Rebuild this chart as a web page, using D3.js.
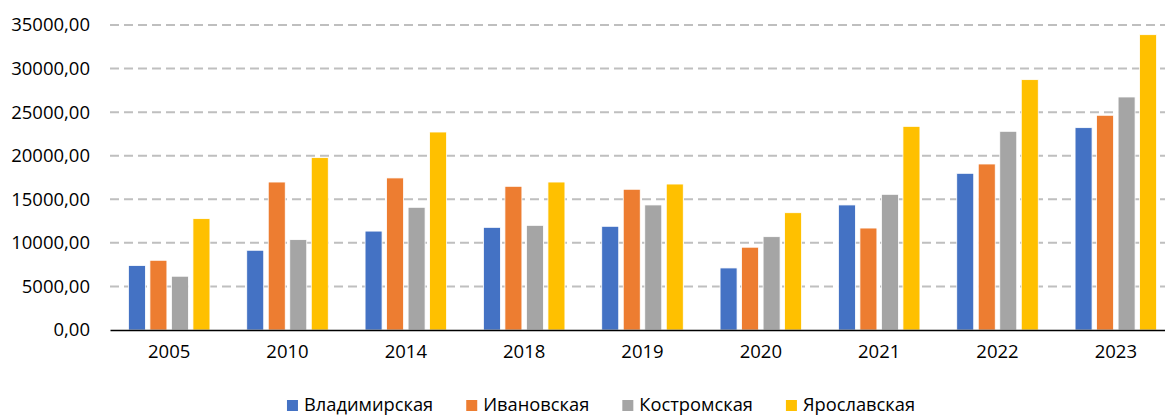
<!DOCTYPE html>
<html>
<head>
<meta charset="utf-8">
<script src="https://cdn.jsdelivr.net/npm/d3@7"></script>
<style>
  body { margin: 0; background: #fff; }
  svg { display: block; font-family: "Open Sans", sans-serif; }
</style>
</head>
<body>
<svg id="chart"></svg>
<script>
// data
var years = ['2005', '2010', '2014', '2018', '2019', '2020', '2021', '2022', '2023']
var regions = ['Владимирская', 'Ивановская', 'Костромская', 'Ярославская']
var vladimir = [7400, 9150, 11350, 11780, 11900, 7120, 14350, 17980, 23220]
var ivanovo = [8000, 16980, 17450, 16490, 16150, 9500, 11700, 19050, 24640]
var kostroma = [6170, 10370, 14080, 12010, 14350, 10710, 15570, 22800, 26740]
var yaroslavl = [12780, 19780, 22720, 16980, 16750, 13460, 23370, 28730, 33890]
var yTicks = [0, 5000, 10000, 15000, 20000, 25000, 30000, 35000]
var colors = ['#4472C4', '#ED7D31', '#A5A5A5', '#FFC000']

var series = [vladimir, ivanovo, kostroma, yaroslavl]

var w = 1165,
  h = 415,
  mLeft = 110,
  mRight = 1175,
  mTop = 25,
  mBottom = 330

var svg = d3.select('#chart').attr('width', w).attr('height', h)

var y = d3.scaleLinear().domain([0, 35000]).range([mBottom, mTop])
var x0 = d3.scaleBand().domain(years).range([mLeft, mRight])
var step = x0.step()
var x1 = d3
  .scaleBand()
  .domain(regions)
  .range([18.4, step - 18.4])
  .paddingInner(0.21)

// grid
svg
  .append('g')
  .selectAll('line')
  .data(yTicks.filter(function(d) { return d > 0 }))
  .join('line')
  .attr('x1', mLeft)
  .attr('x2', mRight)
  .attr('y1', function(d) { return y(d) })
  .attr('y2', function(d) { return y(d) })
  .attr('stroke', '#BFBFBF')
  .attr('stroke-width', 2)
  .attr('stroke-dasharray', '9,5')

// y labels
var yAxis = svg
  .append('g')
  .attr('transform', 'translate(' + (mLeft - 20) + ',0)')
  .call(
    d3
      .axisLeft(y)
      .tickValues(yTicks)
      .tickSize(0)
      .tickPadding(0)
      .tickFormat(function(d) { return d3.format('.2f')(d).replace('.', ',') })
  )
yAxis.select('.domain').remove()
yAxis
  .selectAll('text')
  .attr('font-size', 18.5)
  .attr('font-family', '"Open Sans", sans-serif')
  .attr('fill', '#000')

// bars
var groups = svg
  .append('g')
  .selectAll('g')
  .data(years)
  .join('g')
  .attr('transform', function(d) { return 'translate(' + x0(d) + ',0)' })

groups
  .selectAll('rect')
  .data(function(d, i) {
    return regions.map(function(r, j) {
      return { region: r, value: series[j][i], color: colors[j] }
    })
  })
  .join('rect')
  .attr('x', function(d) { return x1(d.region) })
  .attr('width', x1.bandwidth())
  .attr('y', function(d) { return y(d.value) })
  .attr('height', function(d) { return mBottom - y(d.value) })
  .attr('fill', function(d) { return d.color })
  .attr('stroke', '#fff')
  .attr('stroke-width', 0.8)

// x axis
var xAxis = svg
  .append('g')
  .attr('transform', 'translate(0,' + mBottom + ')')
  .call(d3.axisBottom(x0).tickSize(0).tickPadding(15))
xAxis.select('.domain').attr('stroke', '#000').attr('stroke-width', 1.5)
xAxis
  .selectAll('text')
  .attr('font-size', 18.5)
  .attr('font-family', '"Open Sans", sans-serif')
  .attr('fill', '#000')

// legend
var legend = svg.append('g').attr('transform', 'translate(0,405)')
var items = legend
  .selectAll('g')
  .data(regions)
  .join('g')
items
  .append('rect')
  .attr('y', -5)
  .attr('width', 11)
  .attr('height', 11)
  .attr('fill', function(d, i) { return colors[i] })
items
  .append('text')
  .attr('x', 17)
  .attr('dy', '0.35em')
  .attr('font-size', 18.3)
  .attr('fill', '#000')
  .text(function(d) { return d })

var xpos = 0,
  offsets = []
items.each(function() {
  offsets.push(xpos)
  xpos += 17 + this.querySelector('text').getComputedTextLength() + 33
})
var total = xpos - 33,
  startX = 601 - total / 2
items.attr('transform', function(d, i) { return 'translate(' + (startX + offsets[i]) + ',0)' })
</script>
</body>
</html>
